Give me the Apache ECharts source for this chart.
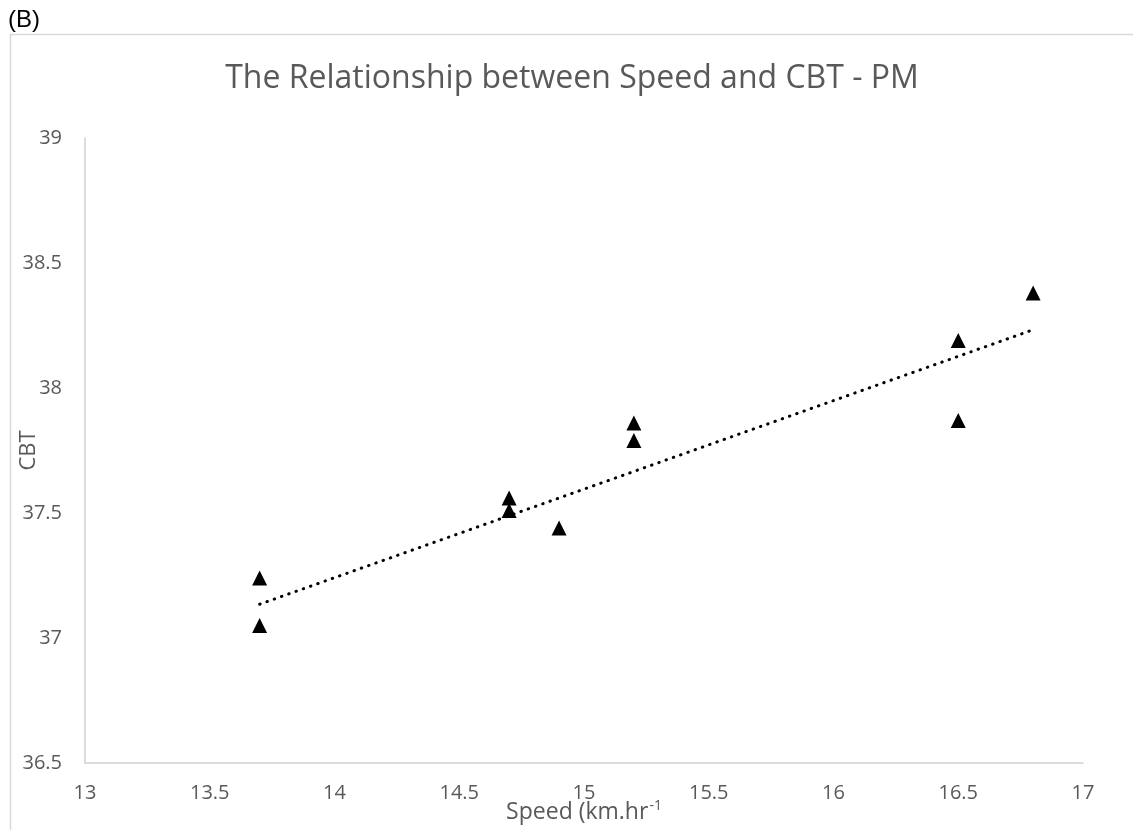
<!DOCTYPE html>
<html>
<head>
<meta charset="utf-8">
<title>The Relationship between Speed and CBT - PM</title>
<script src="https://cdn.jsdelivr.net/npm/echarts@6/dist/echarts.min.js"></script>
<style>
  html, body { margin: 0; padding: 0; background: #ffffff; }
  #chart { width: 1133px; height: 830px; }
</style>
</head>
<body>
<div id="chart"></div>
<script>
// Running speed (km/h) and core body temperature (°C), afternoon session
const speed = [13.7, 13.7, 14.7, 14.7, 14.9, 15.2, 15.2, 16.5, 16.5, 16.8];
const cbt   = [37.24, 37.05, 37.56, 37.51, 37.44, 37.86, 37.79, 38.19, 37.87, 38.38];

// Linear trendline end points
const trendSpeed = [13.7, 16.8];
const trendCbt   = [37.135, 38.233];

// Axis tick settings
const xTicks = { min: 13, max: 17, interval: 0.5 };
const yTicks = { min: 36.5, max: 39, interval: 0.5 };

const points = speed.map((s, i) => [s, cbt[i]]);
const trend = trendSpeed.map((s, i) => [s, trendCbt[i]]);

const grey = '#595959';
const font = '"Open Sans", "Noto Sans", sans-serif';

const chart = echarts.init(document.getElementById('chart'), null, { renderer: 'canvas' });

chart.setOption({
  animation: false,
  backgroundColor: '#ffffff',
  textStyle: { fontFamily: font },
  graphic: [
    {
      type: 'rect',
      left: 8, top: 32,
      shape: { x: 0, y: 0, width: 1200, height: 900 },
      style: { fill: 'none', stroke: '#d9d9d9', lineWidth: 1.5 },
      silent: true
    }
  ],
  title: [
    {
      text: '(B)',
      left: 8, top: 8,
      padding: 0,
      textStyle: { fontFamily: '"Liberation Sans", Arial, sans-serif', fontSize: 24, fontWeight: 'normal', color: '#000000' }
    },
    {
      text: 'The Relationship between Speed and CBT - PM',
      left: 572, top: 63,
      textAlign: 'center',
      padding: 0,
      textStyle: { fontFamily: font, fontSize: 32, fontWeight: 'normal', color: grey }
    }
  ],
  grid: { left: 85, top: 138, right: 50, bottom: 67, containLabel: false, outerBoundsMode: 'none' },
  xAxis: {
    type: 'value',
    min: xTicks.min, max: xTicks.max, interval: xTicks.interval,
    name: '{a|Speed (km.hr}{s|-1}',
    nameLocation: 'middle',
    nameGap: 36,
    nameMoveOverlap: false,
    nameTextStyle: {
      rich: {
        a: { fontFamily: font, fontSize: 23, color: grey, lineHeight: 26 },
        s: { fontFamily: font, fontSize: 14, color: grey, lineHeight: 26, verticalAlign: 'top', padding: [0, 0, 6, 1] }
      }
    },
    axisLine: { show: true, lineStyle: { color: '#d0d0d0', width: 1.5 } },
    axisTick: { show: false },
    splitLine: { show: false },
    axisLabel: { color: grey, fontSize: 20, margin: 20, fontFamily: font }
  },
  yAxis: {
    type: 'value',
    min: yTicks.min, max: yTicks.max, interval: yTicks.interval,
    name: 'CBT',
    nameLocation: 'middle',
    nameGap: 45,
    nameRotate: 90,
    nameMoveOverlap: false,
    nameTextStyle: { color: grey, fontSize: 22, fontFamily: font },
    axisLine: { show: true, lineStyle: { color: '#d0d0d0', width: 1.5 } },
    axisTick: { show: false },
    splitLine: { show: false },
    axisLabel: { color: grey, fontSize: 20, margin: 23, fontFamily: font }
  },
  series: [
    {
      type: 'line',
      data: trend,
      symbol: 'none',
      lineStyle: { color: '#000000', width: 3, type: [0.5, 7.2], cap: 'round' },
      silent: true,
      z: 1
    },
    {
      type: 'scatter',
      data: points,
      symbol: 'triangle',
      symbolSize: [15, 15],
      itemStyle: { color: '#000000', opacity: 1 },
      z: 2
    }
  ]
});
</script>
</body>
</html>
